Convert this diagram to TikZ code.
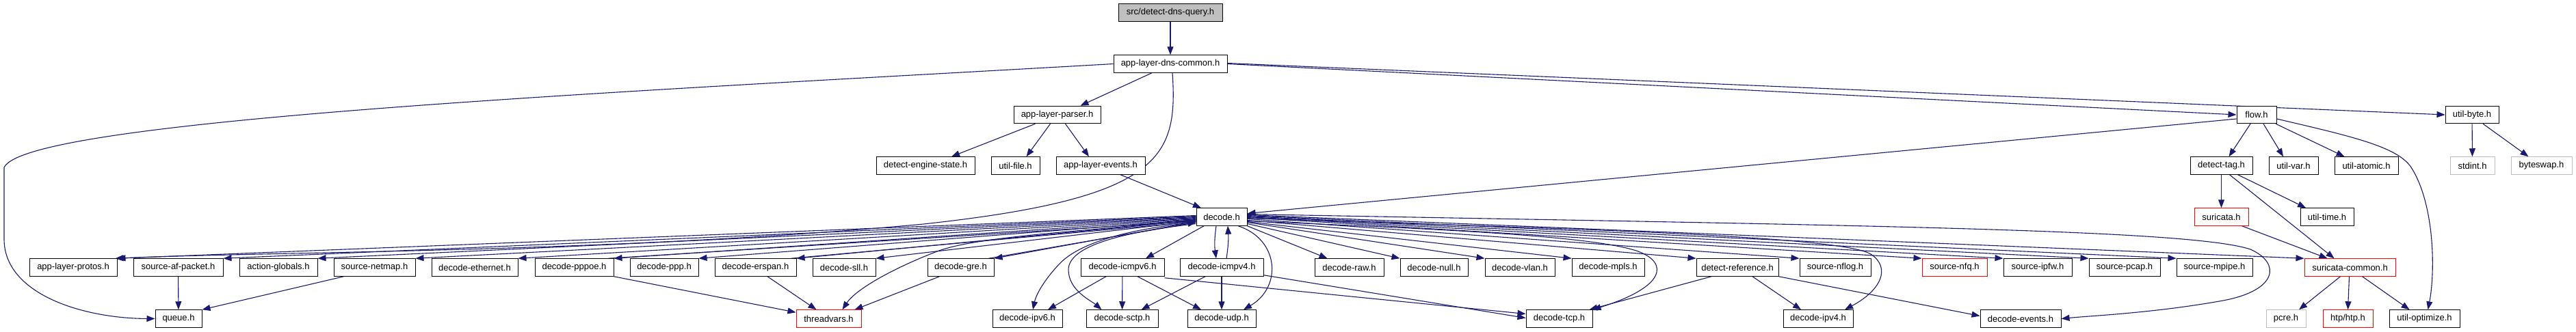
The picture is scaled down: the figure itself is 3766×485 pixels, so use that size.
\documentclass[tikz,border=0pt]{standalone}
\usepackage{fontspec}
\setmainfont{Liberation Sans}
\usepackage{xcolor}
\usepackage{tikz}
\usetikzlibrary{arrows.meta,backgrounds,calc}
\definecolor{EdgeBlue}{HTML}{191970}
\definecolor{TopGray}{HTML}{BFBFBF}
\definecolor{SysGray}{HTML}{BFBFBF}
\definecolor{CutRed}{HTML}{FF0000}

\begin{document}
\begin{tikzpicture}[x=1pt,y=-1pt,>={Triangle[length=12pt,width=9pt]},
    file/.style={draw=black,line width=1pt,fill=white,inner sep=0pt,
      minimum height=25.5pt,font=\fontsize{13pt}{15pt}\selectfont},
    cutfile/.style={file,draw=CutRed},
    sysfile/.style={file,draw=SysGray},
    dep/.style={->,draw=EdgeBlue,line width=1.1pt}]
    % Rows of the include graph, top to bottom.
    \def\ya{18.5}
    \def\yb{93.5}
    \def\yc{168}
    \def\yd{242.5}
    \def\ye{317.5}
    \def\yf{391.5}
    \def\yg{466.5}

    \useasboundingbox (0,0) rectangle (3766,485);

    % Upper part of the graph.
    \node[file,fill=TopGray,minimum width=152pt] (query) at (1711,\ya) {src/detect-dns-query.h};
    \node[file,minimum width=166pt] (dnscommon) at (1711,\yb) {app-layer-dns-common.h};
    \node[file,minimum width=127pt] (parser) at (1545.5,\yc) {app-layer-parser.h};
    \node[file,minimum width=58pt] (flow) at (3299,\yc) {flow.h};
    \node[file,minimum width=78pt] (utilbyte) at (3614,\yc) {util-byte.h};
    \node[file,minimum width=144pt] (enginestate) at (1353,\yd) {detect-engine-state.h};
    \node[file,minimum width=71pt] (utilfile) at (1484.5,\yd) {util-file.h};
    \node[file,minimum width=130pt] (appevents) at (1609,\yd) {app-layer-events.h};
    \node[file,minimum width=91pt] (detecttag) at (3247.5,\yd) {detect-tag.h};
    \node[file,minimum width=72pt] (utilvar) at (3353,\yd) {util-var.h};
    \node[file,minimum width=93pt] (utilatomic) at (3459.5,\yd) {util-atomic.h};
    \node[sysfile,minimum width=65pt] (stdint) at (3614.5,\yd) {stdint.h};
    \node[sysfile,minimum width=89pt] (byteswap) at (3715.5,\yd) {byteswap.h};
    \node[file,minimum width=74pt] (decode) at (1786,\ye) {decode.h};
    \node[cutfile,minimum width=79pt] (suricata) at (3247.5,\ye) {suricata.h};
    \node[file,minimum width=78pt] (utiltime) at (3402,\ye) {util-time.h};

    % Headers pulled in by decode.h.
    \node[file,minimum width=128pt] (protos) at (107,\yf) {app-layer-protos.h};
    \node[file,minimum width=131pt] (afpacket) at (260.5,\yf) {source-af-packet.h};
    \node[file,minimum width=114pt] (actionglobals) at (407,\yf) {action-globals.h};
    \node[file,minimum width=119pt] (netmap) at (547.5,\yf) {source-netmap.h};
    \node[file,minimum width=126pt] (ethernet) at (694,\yf) {decode-ethernet.h};
    \node[file,minimum width=115pt] (pppoe) at (839.5,\yf) {decode-pppoe.h};
    \node[file,minimum width=100pt] (ppp) at (971,\yf) {decode-ppp.h};
    \node[file,minimum width=119pt] (erspan) at (1104.5,\yf) {decode-erspan.h};
    \node[file,minimum width=92pt] (sll) at (1234,\yf) {decode-sll.h};
    \node[file,minimum width=97pt] (gre) at (1404.5,\yf) {decode-gre.h};
    \node[file,minimum width=122pt] (icmpv6) at (1641,\yf) {decode-icmpv6.h};
    \node[file,minimum width=122pt] (icmpv4) at (1786,\yf) {decode-icmpv4.h};
    \node[file,minimum width=101pt] (decraw) at (1972.5,\yf) {decode-raw.h};
    \node[file,minimum width=99pt] (decnull) at (2096.5,\yf) {decode-null.h};
    \node[file,minimum width=102pt] (vlan) at (2222,\yf) {decode-vlan.h};
    \node[file,minimum width=106pt] (mpls) at (2351,\yf) {decode-mpls.h};
    \node[file,minimum width=120pt] (detectref) at (2540,\yf) {detect-reference.h};
    \node[file,minimum width=104pt] (nflog) at (2683,\yf) {source-nflog.h};
    \node[cutfile,minimum width=95pt] (nfq) at (2857.5,\yf) {source-nfq.h};
    \node[file,minimum width=100pt] (ipfw) at (2979,\yf) {source-ipfw.h};
    \node[file,minimum width=104pt] (pcap) at (3106,\yf) {source-pcap.h};
    \node[file,minimum width=111pt] (mpipe) at (3237.5,\yf) {source-mpipe.h};
    \node[cutfile,minimum width=133pt] (suricatacommon) at (3435.5,\yf) {suricata-common.h};

    % Bottom row.
    \node[file,minimum width=68pt] (queue) at (261,\yg) {queue.h};
    \node[cutfile,minimum width=95pt] (threadvars) at (1211.5,\yg) {threadvars.h};
    \node[file,minimum width=102pt] (ipv6) at (1502,\yg) {decode-ipv6.h};
    \node[file,minimum width=105pt] (sctp) at (1640.5,\yg) {decode-sctp.h};
    \node[file,minimum width=100pt] (udp) at (1786,\yg) {decode-udp.h};
    \node[file,minimum width=97pt] (tcp) at (2279.5,\yg) {decode-tcp.h};
    \node[file,minimum width=102pt] (ipv4) at (2658,\yg) {decode-ipv4.h};
    \node[file,minimum width=118pt] (events) at (2954,\yg) {decode-events.h};
    \node[sysfile,minimum width=58pt] (pcre) at (3342,\yg) {pcre.h};
    \node[cutfile,minimum width=73pt] (htp) at (3432.5,\yg) {htp/htp.h};
    \node[file,minimum width=103pt] (utiloptimize) at (3544.5,\yg) {util-optimize.h};

    \begin{scope}[on background layer]
    \fill[white] (0,0) rectangle (3766,485);

    % Top of the graph.
    \draw[dep] (query) -- (dnscommon);
    \draw[dep] ([xshift=-27pt]dnscommon.south) -- ([xshift=34pt]parser.north);
    \draw[dep] (dnscommon.west) .. controls (900,135) and (40,175) .. (6,245)
      -- (6,350) .. controls (6,430) and (120,466) .. (queue.west);
    \draw[dep] ([xshift=3pt]dnscommon.south) .. controls (1722,230) and (1700,290) .. (1350,328)
      .. controls (900,370) and (400,368) .. ([xshift=-3pt]protos.north east);
    \draw[dep] (dnscommon.east) -- (flow.west);
    \draw[dep] ([yshift=1pt]dnscommon.east) -- (utilbyte.west);
    \draw[dep] ([xshift=-32pt]parser.south) -- ([xshift=38pt]enginestate.north);
    \draw[dep] ([xshift=-10pt]parser.south) -- ([xshift=16pt]utilfile.north);
    \draw[dep] ([xshift=12pt]parser.south) -- ([xshift=-17pt]appevents.north);
    \draw[dep] ([xshift=29pt]appevents.south) -- ([xshift=-30pt]decode.north);

    % flow.h and util-byte.h.
    \draw[dep] ([xshift=-9pt]flow.south) -- ([xshift=11pt]detecttag.north);
    \draw[dep] ([xshift=10pt]flow.south) -- ([xshift=-15pt]utilvar.north);
    \draw[dep] ([xshift=28pt]flow.south) -- ([xshift=-32pt]utilatomic.north);
    \draw[dep] ([yshift=-6pt]flow.east) .. controls (3440,200) and (3505,215) .. (3525,245)
      .. controls (3560,300) and (3560,400) .. ([xshift=5pt]utiloptimize.north);
    \draw[dep] ([yshift=-6pt]flow.west) -- ([yshift=5pt]decode.east);
    \draw[dep] (utilbyte) -- (stdint);
    \draw[dep] ([xshift=16pt]utilbyte.south) -- ([xshift=-19pt]byteswap.north);
    \draw[dep] (detecttag) -- (suricata);
    \draw[dep] ([xshift=12pt]detecttag.south) -- ([xshift=-23pt]suricatacommon.north);
    \draw[dep] ([xshift=24pt]detecttag.south) -- ([xshift=-31pt]utiltime.north);
    \draw[dep] ([xshift=30pt]suricata.south) -- ([xshift=-33pt]suricatacommon.north);
    \draw[dep] ([xshift=-14pt]suricatacommon.south) -- ([xshift=19pt]pcre.north);
    \draw[dep] ([xshift=-1pt]suricatacommon.south) -- (htp.north);
    \draw[dep] ([xshift=18pt]suricatacommon.south) -- ([xshift=-22pt]utiloptimize.north);

    % decode.h to the left.
    \draw[dep] ([yshift=2pt]decode.west) -- (protos.north east);
    \draw[dep] ([yshift=1pt]decode.west) -- (afpacket.north east);
    \draw[dep] (decode.west) -- (actionglobals.north east);
    \draw[dep] ([yshift=-1pt]decode.west) -- (netmap.north east);
    \draw[dep] ([yshift=-2pt]decode.west) -- (ethernet.north east);
    \draw[dep] ([yshift=-3pt]decode.west) -- (pppoe.north east);
    \draw[dep] ([yshift=-4pt]decode.west) -- (ppp.north east);
    \draw[dep] ([yshift=-5pt]decode.west) -- (erspan.north east);
    \draw[dep] ([yshift=-6pt]decode.west) -- (sll.north east);
    \draw[dep] ([yshift=-7pt]decode.west) -- (gre.north east);
    \draw[dep] ([xshift=-8pt]pppoe.north east) -- ([yshift=-6pt]decode.west);
    \draw[dep] ([xshift=-8pt]erspan.north east) -- ([yshift=-7pt]decode.west);
    \draw[dep] ([xshift=-8pt]gre.north east) -- ([yshift=-8pt]decode.west);
    \draw[dep] ([yshift=-4pt]decode.west) .. controls (1600,338) and (1430,345) .. (1370,368)
      .. controls (1300,395) and (1250,425) .. ([xshift=20pt]threadvars.north);
    \draw[dep] ([yshift=-8pt]decode.west) .. controls (1650,335) and (1580,355) .. (1550,385)
      .. controls (1528,408) and (1515,430) .. ([xshift=8pt]ipv6.north);
    \draw[dep] ([yshift=-10pt]decode.west) .. controls (1640,340) and (1562,360) .. (1562,395)
      .. controls (1562,425) and (1595,440) .. ([xshift=-30pt]sctp.north);

    % decode.h downwards.
    \draw[dep] ([xshift=-26pt]decode.south) -- ([xshift=34pt]icmpv6.north);
    \draw[dep] ([xshift=-8pt]decode.south) to[bend right=8] ([xshift=-8pt]icmpv4.north);
    \draw[dep] ([xshift=7pt]icmpv4.north) to[bend right=6] ([xshift=9pt]decode.south);
    \draw[dep] ([xshift=24pt]decode.south) .. controls (1870,350) and (1875,420) .. ([xshift=32pt]udp.north);

    % decode.h to the right.
    \draw[dep] (decode.south east) -- ([xshift=-32pt]decraw.north);
    \draw[dep] ([yshift=-10pt]decode.east) -- (decnull.north west);
    \draw[dep] ([yshift=-8pt]decode.east) -- (vlan.north west);
    \draw[dep] ([yshift=-7pt]decode.east) -- (mpls.north west);
    \draw[dep] ([yshift=-5pt]decode.east) -- (detectref.north west);
    \draw[dep] ([yshift=-3pt]decode.east) -- (nflog.north west);
    \draw[dep] ([yshift=-1pt]decode.east) -- (nfq.north west);
    \draw[dep] (decode.east) -- (ipfw.north west);
    \draw[dep] ([yshift=1pt]decode.east) -- (pcap.north west);
    \draw[dep] ([yshift=2pt]decode.east) -- (mpipe.north west);
    \draw[dep] ([yshift=3pt]decode.east) -- (suricatacommon.north west);
    \draw[dep] ([yshift=-6pt]decode.east) .. controls (2100,335) and (2330,345) .. (2395,368)
      .. controls (2440,385) and (2435,420) .. (tcp.north east);
    \draw[dep] ([yshift=-2pt]decode.east) .. controls (2300,335) and (2690,345) .. (2735,372)
      .. controls (2765,392) and (2750,425) .. ([xshift=39pt]ipv4.north);
    \draw[dep] ([yshift=4pt]decode.east) .. controls (2700,330) and (3200,335) .. (3290,365)
      .. controls (3335,385) and (3330,425) .. (3250,440)
      .. controls (3150,458) and (3060,462) .. (events.east);

    % Second level below decode.h.
    \draw[dep] ([xshift=-24pt]icmpv6.south) -- ([xshift=30pt]ipv6.north);
    \draw[dep] (icmpv6) -- (sctp);
    \draw[dep] ([xshift=22pt]icmpv6.south) -- ([xshift=-30pt]udp.north);
    \draw[dep] ([yshift=-2pt]icmpv6.south east) -- ([yshift=7pt]tcp.west);
    \draw[dep] ([xshift=-24pt]icmpv4.south) -- ([xshift=28pt]sctp.north);
    \draw[dep] (icmpv4) -- (udp);
    \draw[dep] ([yshift=2pt]icmpv4.south east) -- ([yshift=1pt]tcp.west);
    \draw[dep] ([xshift=-38pt]detectref.south) -- ([xshift=44pt]tcp.north);
    \draw[dep] ([xshift=22pt]detectref.south) -- ([xshift=-25pt]ipv4.north);
    \draw[dep] (detectref.south east) -- ([yshift=4pt]events.west);
    \draw[dep] (pppoe.south east) -- ([yshift=-4pt]threadvars.north west);
    \draw[dep] ([xshift=17.5pt]erspan.south) -- ([xshift=-18pt]threadvars.north);
    \draw[dep] ([xshift=-31pt]gre.south) -- ([xshift=38pt]threadvars.north);
    \draw[dep] (afpacket) -- (queue);
    \draw[dep] ([xshift=-45pt]netmap.south) -- (queue.north east);
    \end{scope}
\end{tikzpicture}
\end{document}
